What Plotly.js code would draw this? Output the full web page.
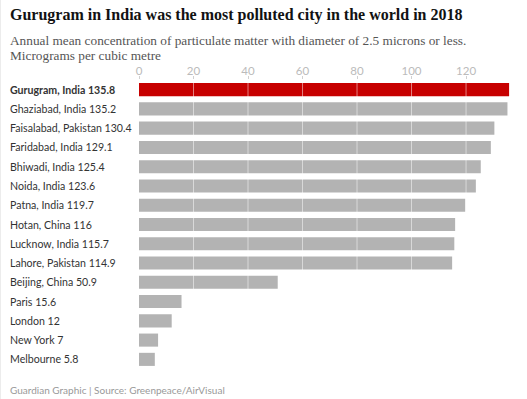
<!DOCTYPE html>
<html>
<head>
<meta charset="utf-8">
<script src="https://cdn.plot.ly/plotly-3.0.1.min.js"></script>
<style>
html,body{margin:0;padding:0;background:#fff;}
#chart{width:527px;height:399px;box-sizing:border-box;border-left:1px solid #ececec;}
</style>
</head>
<body>
<div id="chart"></div>
<script>
var cities = ["Gurugram, India", "Ghaziabad, India", "Faisalabad, Pakistan", "Faridabad, India", "Bhiwadi, India", "Noida, India", "Patna, India", "Hotan, China", "Lucknow, India", "Lahore, Pakistan", "Beijing, China", "Paris", "London", "New York", "Melbourne"];
var values = [135.8, 135.2, 130.4, 129.1, 125.4, 123.6, 119.7, 116, 115.7, 114.9, 50.9, 15.6, 12, 7, 5.8];
var tickVals = [0, 20, 40, 60, 80, 100, 120];
var gridVals = [20, 40, 60, 80, 100, 120];

var colors = values.map(function(v, i){ return i === 0 ? '#c70000' : '#b3b3b3'; });

var trace = {
  type: 'bar',
  orientation: 'h',
  x: values,
  y: cities,
  marker: {color: colors, line: {width: 0}},
  width: 0.68,
  hoverinfo: 'none'
};

var labelFont = 'Lato, sans-serif';
var LX = -0.345;

var annotations = cities.map(function(c, i){
  var t = c + ' ' + values[i];
  if (i === 0) t = '<b>' + t + '</b>';
  return {
    xref: 'paper', yref: 'y', x: LX, y: c,
    xanchor: 'left', yanchor: 'middle',
    text: t, showarrow: false,
    font: {family: labelFont, size: 10.6, color: '#333'}
  };
});

annotations.push({
  xref: 'paper', yref: 'paper', x: LX, y: 1, yshift: 76,
  xanchor: 'left', yanchor: 'top',
  text: '<b>Gurugram in India was the most polluted city in the world in 2018</b>',
  showarrow: false, align: 'left',
  font: {family: "'Liberation Serif', serif", size: 16, color: '#121212'}
});
annotations.push({
  xref: 'paper', yref: 'paper', x: LX, y: 1, yshift: 80 - 40,
  xanchor: 'left', yanchor: 'middle',
  text: 'Annual mean concentration of particulate matter with diameter of 2.5 microns or less.',
  showarrow: false, align: 'left',
  font: {family: "'Liberation Serif', serif", size: 13.3, color: '#555'}
});
annotations.push({
  xref: 'paper', yref: 'paper', x: LX, y: 1, yshift: 80 - 55,
  xanchor: 'left', yanchor: 'middle',
  text: 'Micrograms per cubic metre',
  showarrow: false, align: 'left',
  font: {family: "'Liberation Serif', serif", size: 13.3, color: '#555'}
});
annotations.push({
  xref: 'paper', yref: 'paper', x: LX, y: 0, yshift: -21,
  xanchor: 'left', yanchor: 'middle',
  text: 'Guardian Graphic | Source: Greenpeace/AirVisual',
  showarrow: false, align: 'left',
  font: {family: 'Lato, sans-serif', size: 10, color: '#999'}
});

var shapes = gridVals.map(function(g){
  return {type: 'line', xref: 'x', yref: 'paper', x0: g, x1: g, y0: 0, y1: 1,
          line: {color: '#ffffff', width: 1}, opacity: 0.5, layer: 'above'};
});

var layout = {
  width: 527, height: 399,
  margin: {l: 138, r: 8, t: 80, b: 30},
  paper_bgcolor: '#fff', plot_bgcolor: '#fff',
  showlegend: false,
  bargap: 0.32,
  xaxis: {
    side: 'top', range: [0, 139.8], tickvals: tickVals,
    showgrid: false, zeroline: false, showline: false,
    ticks: 'outside', ticklen: 3, tickcolor: '#d0d0d0', tickwidth: 1,
    ticklabelstandoff: -4,
    tickfont: {family: 'Lato, sans-serif', size: 11.5, color: '#bbb'}
  },
  yaxis: {
    autorange: 'reversed', showticklabels: false, showgrid: false,
    zeroline: false, showline: false, ticks: ''
  },
  annotations: annotations,
  shapes: shapes
};

Plotly.newPlot('chart', [trace], layout, {staticPlot: true, displayModeBar: false});
</script>
</body>
</html>
